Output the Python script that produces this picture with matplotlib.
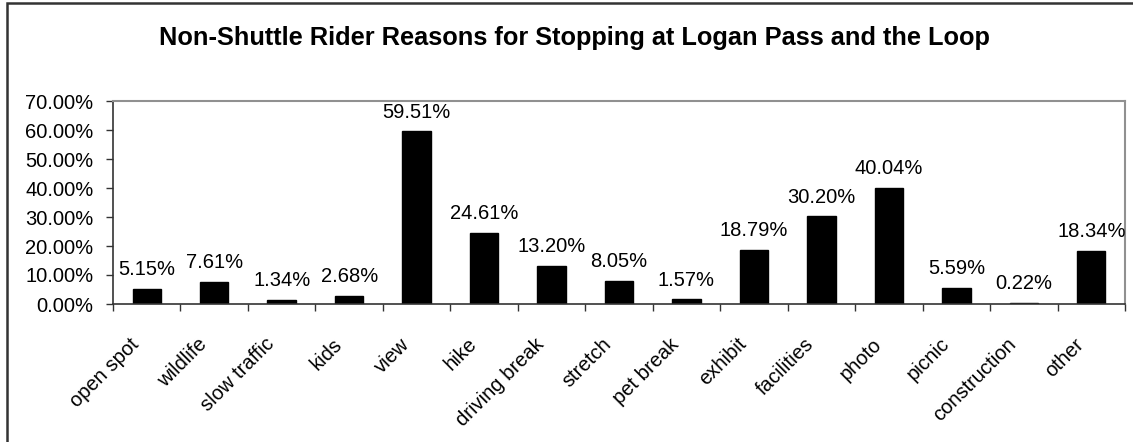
import matplotlib.pyplot as plt
import matplotlib.transforms as mtransforms
import numpy as np
from matplotlib.patches import Rectangle
from matplotlib.ticker import FuncFormatter

plt.rcParams['font.family'] = ['Liberation Sans', 'DejaVu Sans']

reasons = ['open spot', 'wildlife', 'slow traffic', 'kids', 'view', 'hike',
           'driving break', 'stretch', 'pet break', 'exhibit', 'facilities',
           'photo', 'picnic', 'construction', 'other']
percents = [5.15, 7.61, 1.34, 2.68, 59.51, 24.61, 13.20, 8.05, 1.57, 18.79,
            30.20, 40.04, 5.59, 0.22, 18.34]

fig = plt.figure(figsize=(11.33, 4.42), dpi=100)
ax = fig.add_axes([113 / 1133, 1 - 304 / 442, 1012 / 1133, 203 / 442])

x = np.arange(len(reasons))
ax.bar(x, percents, width=0.42, color='black', edgecolor='black')
for xi, v in zip(x, percents):
    ax.annotate(f'{v:.2f}%', (xi, v), xytext=(0, 10), textcoords='offset points',
                ha='center', va='baseline', fontsize=14.5)

ax.set_xlim(-0.5, len(reasons) - 0.5)
ax.set_ylim(0, 70)
ax.set_yticks(np.arange(0, 71, 10))
ax.yaxis.set_major_formatter(FuncFormatter(lambda v, p: f'{v:.2f}%'))
ax.tick_params(axis='y', labelsize=14.5, length=5, width=1, color='#333333',
               direction='out', pad=9)

# category labels at centres, tick marks between categories
ax.set_xticks(x)
ax.set_xticklabels(reasons, rotation=45, ha='right', rotation_mode='anchor', fontsize=14.5)
ax.tick_params(axis='x', which='major', length=0, pad=22)
shift = mtransforms.ScaledTranslation(-0.17, 0, fig.dpi_scale_trans)
for lbl in ax.get_xticklabels():
    lbl.set_transform(lbl.get_transform() + shift)
ax.set_xticks(np.arange(-0.5, len(reasons)), minor=True)
ax.tick_params(axis='x', which='minor', length=5, width=1, color='#333333', direction='out')

for side in ['top', 'right']:
    ax.spines[side].set_color('#909090')
    ax.spines[side].set_linewidth(1.5)
for side in ['left', 'bottom']:
    ax.spines[side].set_color('#333333')
    ax.spines[side].set_linewidth(1.2)

fig.text(574 / 1133, 1 - 45 / 442, 'Non-Shuttle Rider Reasons for Stopping at Logan Pass and the Loop',
         ha='center', va='baseline', fontsize=18.3, fontweight='bold')

# outer chart border
fig.patches.append(Rectangle((7 / 1133, -0.5), 1.2, 1.5 - 3 / 442, transform=fig.transFigure,
                             fill=False, edgecolor='#333333', linewidth=1.8))

fig.savefig('out.png', dpi=100, facecolor='white')
